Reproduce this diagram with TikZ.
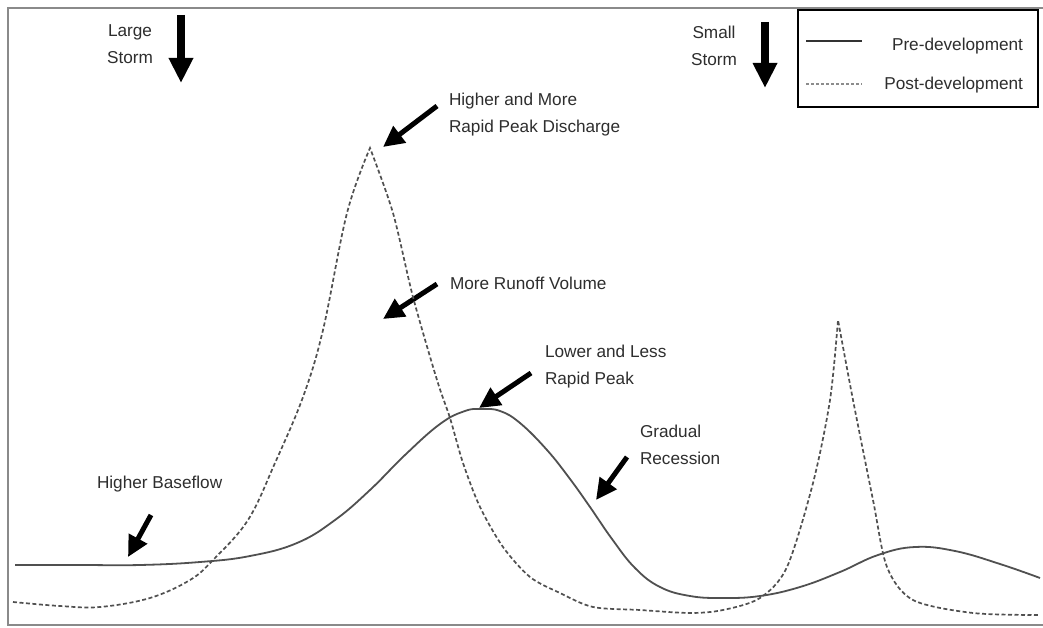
\documentclass[tikz,border=0pt]{standalone}
\usepackage{fontspec}
\setmainfont{Liberation Sans}
\usetikzlibrary{arrows.meta}
\definecolor{txtgray}{HTML}{2E2E2E}
\definecolor{curvegray}{HTML}{505050}
\definecolor{framegray}{HTML}{8A8A8A}
\begin{document}
\begin{tikzpicture}[x=1pt,y=-1pt,
  lbl/.style={inner sep=0pt,outer sep=0pt,text=txtgray,font=\fontsize{17.2}{27}\selectfont},
  bigarrow/.style={line width=8pt,-{Triangle[length=25pt,width=23pt]}},
  callout/.style={line width=5pt,-{Triangle[length=21pt,width=20pt]}},
  predev/.style={line width=1.8pt,curvegray,line join=round},
  postdev/.style={line width=1.7pt,curvegray,dash pattern=on 4pt off 2.5pt},
  legendbox/.style={draw=black,line width=2pt,inner sep=0pt}]
\useasboundingbox (0,0) rectangle (1043,628);
\fill[white] (0,0) rectangle (1043,628);
% outer frame
\draw[framegray,line width=2pt] (1043,8) -- (8,8) -- (8,625) -- (1043,625);
% legend
\node[legendbox,minimum width=240pt,minimum height=97pt,anchor=north west] (legend) at (797,9) {};
\coordinate (preA) at (806,41);
\coordinate (preB) at (862,41);
\coordinate (postA) at (806,84);
\coordinate (postB) at (862,84);
\draw[line width=2pt,black!80] (preA) -- (preB);
\draw[line width=1.2pt,black!45,dash pattern=on 3pt off 2pt] (postA) -- (postB);
\node[lbl,anchor=base east] (preLbl) at (1023,51) {Pre-development};
\node[lbl,anchor=base east] (postLbl) at (1023,90) {Post-development};
% storms
\node[lbl,align=center,anchor=north] (largeStorm) at (130,25) {Large\\Storm};
\coordinate (lsTail) at (181,15);
\coordinate (lsTip) at (181,83);
\draw[bigarrow] (lsTail) -- (lsTip);
\node[lbl,align=center,anchor=north] (smallStorm) at (714,26) {Small\\Storm};
\coordinate (ssTail) at (765,22);
\coordinate (ssTip) at (765,88);
\draw[bigarrow] (ssTail) -- (ssTip);
% labels
\node[lbl,align=left,anchor=north west] (higherPeak) at (449,93) {Higher and More\\Rapid Peak Discharge};
\coordinate (hpTail) at (437,106);
\coordinate (hpTip) at (383,147);
\draw[callout] (hpTail) -- (hpTip);
\node[lbl,anchor=north west] (runoff) at (450,277) {More Runoff Volume};
\coordinate (rvTail) at (437,284);
\coordinate (rvTip) at (383,319);
\draw[callout] (rvTail) -- (rvTip);
\node[lbl,align=left,anchor=north west] (lowerPeak) at (545,345) {Lower and Less\\Rapid Peak};
\coordinate (lpTail) at (531,373);
\coordinate (lpTip) at (479,408);
\draw[callout] (lpTail) -- (lpTip);
\node[lbl,align=left,anchor=north west] (recession) at (640,425) {Gradual\\Recession};
\coordinate (grTail) at (627,457);
\coordinate (grTip) at (596,500);
\draw[callout] (grTail) -- (grTip);
\node[lbl,anchor=north west] (baseflow) at (97,476) {Higher Baseflow};
\coordinate (bfTail) at (151,515);
\coordinate (bfTip) at (128,557);
\draw[callout] (bfTail) -- (bfTip);
% pre-development hydrograph
\draw[predev] plot[smooth,tension=0.7] coordinates {
 (15,565) (80,565) (140,565) (200,562) (250,556) (297,543) (335,520) (370,490)
 (405,455) (440,424) (465,411) (482,409) (500,411) (520,423) (547,450) (570,479)
 (590,507) (612,539) (635,568) (660,587) (690,596) (723,598) (760,596) (800,587)
 (840,572) (878,555) (915,547) (955,551) (1000,564) (1040,578)};
% post-development hydrograph
\draw[postdev] plot[smooth,tension=0.6] coordinates {
 (13,602) (60,606) (100,607) (150,598) (190,580) (213,560) (248,520) (275,463)
 (303,397) (323,330) (347,213) (370,148)}
 -- plot[smooth,tension=0.5] coordinates {
 (370,148) (393,213) (413,297) (437,380) (450,418) (463,463) (480,507) (503,547)
 (530,577) (560,593) (593,607) (640,610) (690,613) (723,610) (760,598) (787,567)
 (813,483) (830,400) (838,320)}
 -- plot[smooth,tension=0.5] coordinates {
 (838,320) (853,400) (873,500) (887,567) (913,600) (973,613) (1040,615)};
\end{tikzpicture}
\end{document}
